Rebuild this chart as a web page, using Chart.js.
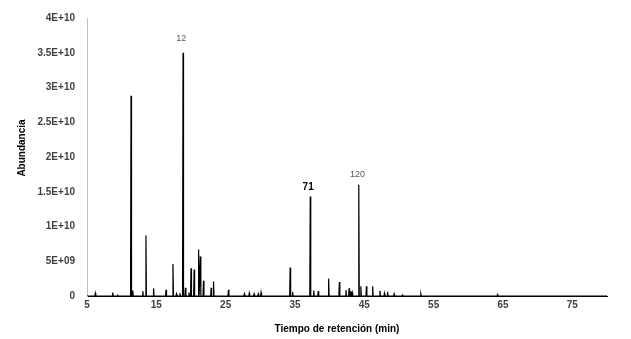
<!DOCTYPE html>
<html>
<head>
<meta charset="utf-8">
<script src="https://cdn.jsdelivr.net/npm/chart.js@4/dist/chart.umd.min.js"></script>
<style>
  body { margin: 0; background: #fff; }
  canvas { display: block; }
</style>
</head>
<body>
<canvas id="chromChart" width="631" height="339"></canvas>
<script>
// retention time (min) and abundance of each peak
var peakTimes = [6.2, 8.7, 9.4, 11.35, 11.6, 13.05, 13.5, 14.6, 16.4, 17.4, 17.9, 18.4, 18.85, 19.2, 19.7,
	20.0, 20.45, 21.1, 21.35, 21.8, 22.9, 23.25, 25.4, 27.7, 28.4, 29.1, 29.7, 30.1,
	34.3, 34.65, 37.2, 37.7, 38.35, 39.85, 41.4, 42.35, 42.8, 43.05, 43.25,
	44.2, 44.5, 45.3, 46.2, 47.25, 47.9, 48.35, 49.3, 50.5, 53.15, 64.2];
var peakHeights = [0.4e9, 0.5e9, 0.2e9, 28.8e9, 0.8e9, 0.7e9, 8.7e9, 1.1e9, 0.9e9, 4.6e9, 0.3e9, 0.4e9, 35.0e9, 1.2e9, 0.5e9,
	4.0e9, 3.8e9, 6.7e9, 5.7e9, 2.2e9, 1.2e9, 2.1e9, 0.9e9, 0.3e9, 0.4e9, 0.3e9, 0.3e9, 0.5e9,
	4.1e9, 0.6e9, 14.3e9, 0.8e9, 0.7e9, 2.5e9, 2.0e9, 0.85e9, 1.1e9, 0.7e9, 0.5e9,
	16.0e9, 1.4e9, 1.4e9, 1.4e9, 0.75e9, 0.4e9, 0.6e9, 0.3e9, 0.15e9, 0.3e9, 0.2e9];

// tick labels
var xTicks = [5, 15, 25, 35, 45, 55, 65, 75];
var yTickLabels = ["0", "5E+09", "1E+10", "1.5E+10", "2E+10", "2.5E+10", "3E+10", "3.5E+10", "4E+10"];

// peak annotations
var labelTexts = ["12", "71", "120"];
var labelTimes = [18.6, 36.9, 44.0];
var labelValues = [37.1e9, 15.6e9, 17.5e9];
var labelBold = [false, true, false];

// build the trace: baseline, then a narrow spike for every peak
var trace = [{x: 5, y: 0}];
for (let i = 0; i < peakTimes.length; i++) {
	trace.push({x: peakTimes[i] - 0.07, y: 0});
	trace.push({x: peakTimes[i], y: peakHeights[i]});
	trace.push({x: peakTimes[i] + 0.07, y: 0});
}
trace.push({x: 80, y: 0});

const font = "'Liberation Sans', Arial, sans-serif";

// axis titles (placed like the original, a bit off-centre) and peak numbers
const chartText = {
	id: "chartText",
	afterDraw(chart) {
		const ctx = chart.ctx;
		const xs = chart.scales.x, ys = chart.scales.y;
		ctx.save();
		ctx.textAlign = "center";
		ctx.textBaseline = "middle";

		ctx.font = "bold 10px " + font;
		ctx.fillStyle = "#000";
		ctx.fillText("Tiempo de retención (min)", 337, 329);
		ctx.save();
		ctx.translate(22, 148);
		ctx.rotate(-Math.PI / 2);
		ctx.fillText("Abundancia", 0, 0);
		ctx.restore();

		for (let i = 0; i < labelTexts.length; i++) {
			if (labelBold[i]) {
				ctx.font = "bold 10px " + font;
				ctx.fillStyle = "#000";
			} else {
				ctx.font = "9px " + font;
				ctx.fillStyle = "#595959";
			}
			ctx.fillText(labelTexts[i], xs.getPixelForValue(labelTimes[i]), ys.getPixelForValue(labelValues[i]));
		}
		ctx.restore();
	}
};

new Chart(document.getElementById("chromChart"), {
	type: "scatter",
	data: {
		datasets: [{
			data: trace,
			showLine: true,
			borderColor: "#000",
			borderWidth: 1.2,
			pointRadius: 0,
			tension: 0
		}]
	},
	options: {
		responsive: false,
		animation: false,
		layout: {padding: {top: 17, right: 24, bottom: 0, left: 0}},
		plugins: {legend: {display: false}, tooltip: {enabled: false}},
		scales: {
			x: {
				type: "linear",
				min: 5,
				max: 80,
				afterBuildTicks: (scale) => {
					scale.ticks = xTicks.map((v) => ({value: v}));
				},
				afterFit: (scale) => { scale.height = 43; },
				grid: {display: false, drawTicks: false},
				border: {display: true, color: "#000", width: 1},
				ticks: {
					padding: 3,
					maxRotation: 0,
					autoSkip: false,
					color: "#404040",
					font: {family: font, size: 10, weight: "bold"}
				}
			},
			y: {
				min: 0,
				max: 4e10,
				afterFit: (scale) => { scale.width = 87; },
				grid: {display: false, drawTicks: false},
				border: {display: true, color: "#bfbfbf", width: 1},
				ticks: {
					stepSize: 5e9,
					padding: 12,
					color: "#404040",
					font: {family: font, size: 10, weight: "bold"},
					callback: (value, index) => yTickLabels[index]
				}
			}
		}
	},
	plugins: [chartText]
});
</script>
</body>
</html>
